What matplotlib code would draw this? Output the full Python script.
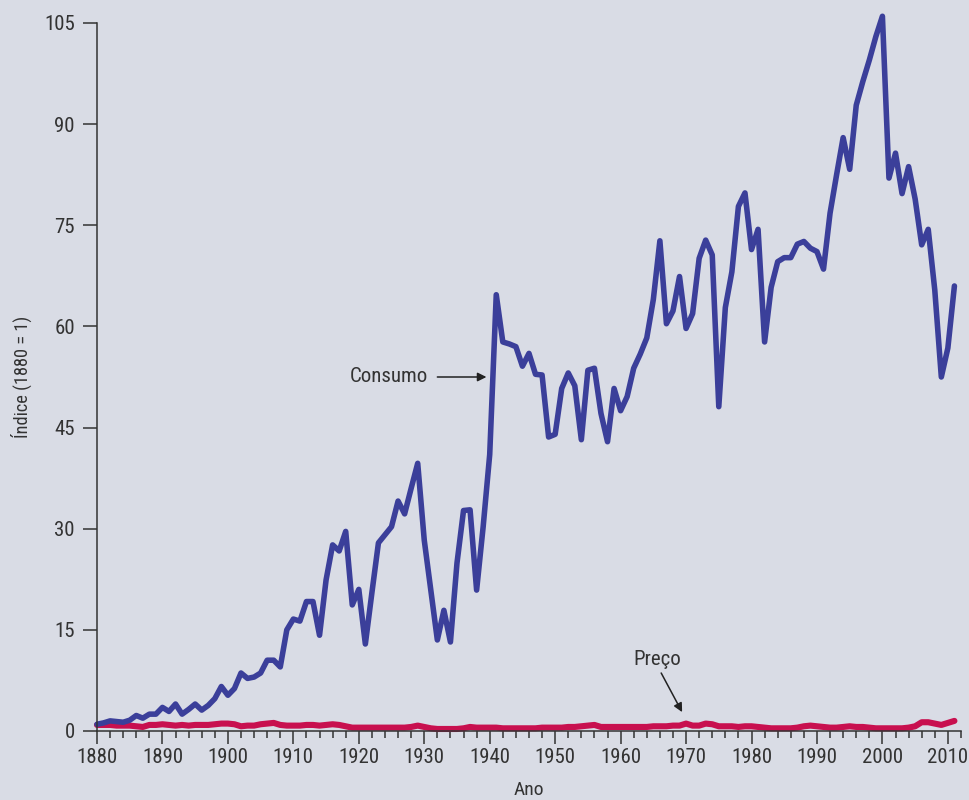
import numpy as np
import matplotlib
matplotlib.use("Agg")
import matplotlib.pyplot as plt

years = list(range(1880, 2012))

consumo = [1.0, 1.2, 1.5, 1.4, 1.3, 1.6, 2.3, 1.9, 2.5, 2.5,
           3.5, 2.9, 4.0, 2.5, 3.2, 4.0, 3.1, 3.8, 4.8, 6.6,
           5.3, 6.3, 8.6, 7.8, 8.0, 8.6, 10.5, 10.5, 9.5, 15.0,
           16.6, 16.3, 19.2, 19.2, 14.2, 22.4, 27.6, 26.7, 29.6, 18.7,
           21.0, 12.9, 20.5, 27.9, 29.1, 30.3, 34.1, 32.2, 36.0, 39.7,
           28.3, 20.9, 13.5, 17.9, 13.2, 24.9, 32.7, 32.8, 20.9, 30.3,
           41.0, 64.7, 57.7, 57.4, 57.0, 54.1, 56.0, 52.9, 52.8, 43.6,
           44.0, 50.8, 53.1, 51.2, 43.2, 53.5, 53.8, 47.1, 42.9, 50.8,
           47.5, 49.6, 53.8, 55.9, 58.3, 64.0, 72.7, 60.4, 62.3, 67.4,
           59.7, 61.9, 70.1, 72.8, 70.6, 48.1, 62.8, 68.1, 77.8, 79.8,
           71.4, 74.4, 57.7, 65.8, 69.6, 70.2, 70.2, 72.2, 72.6, 71.6,
           71.1, 68.5, 76.8, 82.5, 88.0, 83.3, 92.8, 96.3, 99.5, 103.0,
           106.0, 82.0, 85.7, 79.7, 83.7, 78.9, 72.1, 74.4, 65.4, 52.5,
           56.8, 66.0]

preco = [0.9, 0.9, 0.9, 0.8, 0.8, 0.8, 0.7, 0.6, 0.9, 0.9,
         1.0, 0.9, 0.8, 0.9, 0.8, 0.9, 0.9, 0.9, 1.0, 1.1,
         1.1, 1.0, 0.7, 0.8, 0.8, 1.0, 1.1, 1.2, 0.9, 0.8,
         0.8, 0.8, 0.9, 0.9, 0.8, 0.9, 1.0, 0.9, 0.7, 0.5,
         0.5, 0.5, 0.5, 0.5, 0.5, 0.5, 0.5, 0.5, 0.6, 0.8,
         0.6, 0.4, 0.3, 0.3, 0.3, 0.3, 0.4, 0.6, 0.5, 0.5,
         0.5, 0.5, 0.4, 0.4, 0.4, 0.4, 0.4, 0.4, 0.5, 0.5,
         0.5, 0.5, 0.6, 0.6, 0.7, 0.8, 0.9, 0.6, 0.6, 0.6,
         0.6, 0.6, 0.6, 0.6, 0.6, 0.7, 0.7, 0.7, 0.8, 0.8,
         1.1, 0.8, 0.8, 1.1, 1.0, 0.7, 0.7, 0.7, 0.6, 0.7,
         0.7, 0.6, 0.5, 0.4, 0.4, 0.4, 0.4, 0.5, 0.7, 0.8,
         0.7, 0.6, 0.5, 0.5, 0.6, 0.7, 0.6, 0.6, 0.5, 0.4,
         0.4, 0.4, 0.4, 0.4, 0.5, 0.7, 1.3, 1.3, 1.1, 0.9,
         1.2, 1.5]

yticks = [0, 15, 30, 45, 60, 75, 90, 105]
xticks = list(range(1880, 2011, 10))

bg = '#d9dce5'
txt = '#333333'
# condensed face if one is around, else plain
plt.rcParams['font.family'] = ['Liberation Sans Narrow', 'Roboto Condensed', 'DejaVu Sans']
plt.rcParams['font.stretch'] = 'condensed'

fig = plt.figure(figsize=(9.69, 8), dpi=100, facecolor=bg)
ax = fig.add_axes([0.1001, 0.08625, 0.8916, 0.885])
ax.set_facecolor(bg)

ax.plot(years, preco, color='#c8104f', lw=4.4, solid_capstyle='round', solid_joinstyle='round', clip_on=False)
ax.plot(years, consumo, color='#3b3f9a', lw=4.0, solid_capstyle='round', solid_joinstyle='round', clip_on=False)

ax.set_xlim(1880, 2012)
ax.set_ylim(0, 105)
ax.set_yticks(yticks)
ax.set_xticks(xticks)
ax.set_xticks(list(range(1880, 2013, 2)), minor=True)

for s in ['top', 'right']:
    ax.spines[s].set_visible(False)
for s in ['left', 'bottom']:
    ax.spines[s].set_color(txt)
    ax.spines[s].set_linewidth(1.1)

ax.tick_params(axis='y', length=10, width=1.1, color=txt, labelcolor=txt, labelsize=15, pad=6)
ax.tick_params(axis='x', which='major', length=9.5, width=1.1, color=txt, labelcolor=txt, labelsize=15, pad=3)
ax.tick_params(axis='x', which='minor', length=5, width=1.1, color=txt)

ax.set_ylabel('Índice (1880 = 1)', fontsize=13.2, color=txt, labelpad=9)
ax.set_xlabel('Ano', fontsize=14, color=txt, labelpad=10)

arrow = dict(arrowstyle='-|>', color='#222222', lw=1.1, mutation_scale=13, shrinkA=0, shrinkB=0)

ax.text(1930.6, 52.5, 'Consumo', ha='right', va='center', fontsize=15, color=txt)
ax.annotate('', xy=(1939.5, 52.5), xytext=(1932.0, 52.5), arrowprops=arrow)

ax.text(1965.6, 10.6, 'Preço', ha='center', va='center', fontsize=15, color=txt)
ax.annotate('', xy=(1969.4, 2.8), xytext=(1966.2, 8.6), arrowprops=arrow)

fig.savefig('out.png', dpi=100, facecolor=bg)
